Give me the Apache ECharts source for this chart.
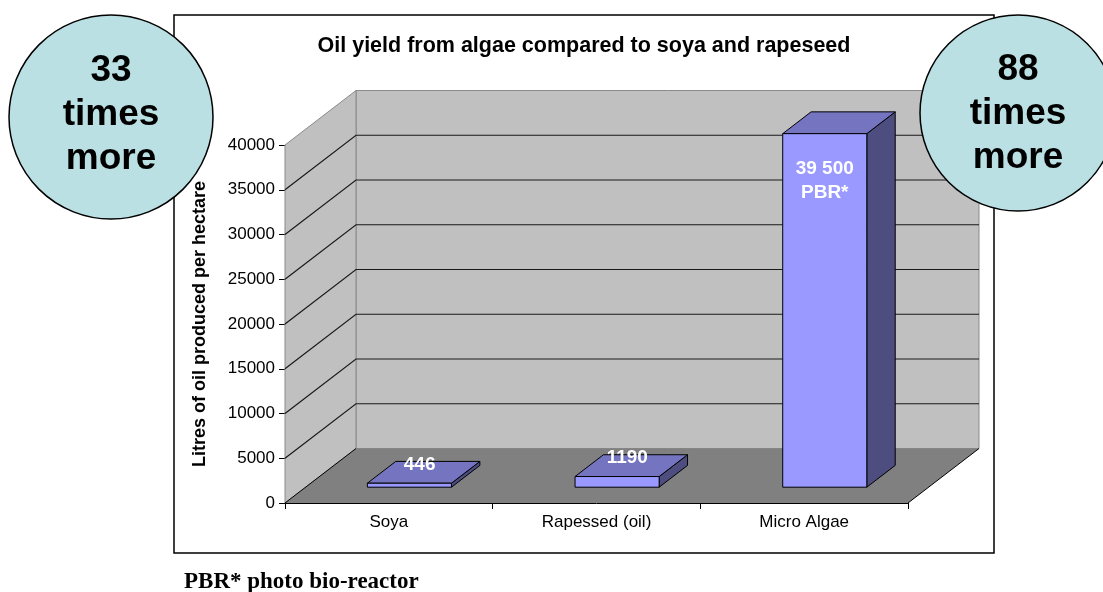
<!DOCTYPE html>
<html>
<head>
<meta charset="utf-8">
<script src="https://cdn.jsdelivr.net/npm/echarts@6/dist/echarts.min.js"></script>
<style>
  html, body { margin: 0; padding: 0; background: #fff; }
  #chart { width: 1103px; height: 592px; }
</style>
</head>
<body>
<div id="chart"></div>
<script>
const categories = ['Soya', 'Rapessed (oil)', 'Micro Algae'];
const oilYield = [446, 1190, 39500];
const barLabels = ['446', '1190', '39 500\nPBR*'];
const yTicks = [0, 5000, 10000, 15000, 20000, 25000, 30000, 35000, 40000];
const callouts = ['33\ntimes\nmore', '88\ntimes\nmore'];
const chartTitle = 'Oil yield from algae compared to soya and rapeseed';
const yAxisName = 'Litres of oil produced per hectare';
const footnote = 'PBR* photo bio-reactor';

// depth of the 3D box in pixels, bars sit between F0 and F1 of it
const DX = 71;
const DY = -54.5;
const F0 = 0.29;
const F1 = 0.69;
const FONT = "'Liberation Sans', Arial, sans-serif";

const chart = echarts.init(document.getElementById('chart'), null, { renderer: 'canvas' });

function renderWalls(params, api) {
    const band = api.size([1, 0])[0];
    const xL = api.coord([0, 0])[0] - band / 2;
    const xR = api.coord([categories.length - 1, 0])[0] + band / 2;
    const y0 = api.coord([0, 0])[1];
    const yTop = api.coord([0, yTicks[yTicks.length - 1]])[1];
    const children = [];
    children.push({
        type: 'polygon',
        shape: { points: [[xL + DX, y0 + DY], [xR + DX, y0 + DY], [xR + DX, yTop + DY], [xL + DX, yTop + DY]] },
        style: { fill: '#c0c0c0', stroke: '#8a8a8a', lineWidth: 1 }
    });
    children.push({
        type: 'polygon',
        shape: { points: [[xL, y0], [xL, yTop], [xL + DX, yTop + DY], [xL + DX, y0 + DY]] },
        style: { fill: '#c0c0c0', stroke: '#8a8a8a', lineWidth: 1 }
    });
    children.push({
        type: 'polygon',
        shape: { points: [[xL, y0], [xR, y0], [xR + DX, y0 + DY], [xL + DX, y0 + DY]] },
        style: { fill: '#808080' }
    });
    yTicks.slice(1, -1).forEach(v => {
        const y = api.coord([0, v])[1];
        children.push({
            type: 'polyline',
            shape: { points: [[xL, y], [xL + DX, y + DY], [xR + DX, y + DY]] },
            style: { stroke: '#1a1a1a', lineWidth: 1.2, fill: null }
        });
    });
    children.push({
        type: 'line',
        shape: { x1: xL, y1: y0, x2: xL + DX, y2: y0 + DY },
        style: { stroke: '#000', lineWidth: 1 }
    });
    children.push({
        type: 'line',
        shape: { x1: xR, y1: y0, x2: xR + DX, y2: y0 + DY },
        style: { stroke: '#000', lineWidth: 1 }
    });
    return { type: 'group', children };
}

function renderBar(params, api) {
    const i = api.value(0);
    const v = api.value(1);
    const top = api.coord([i, v]);
    const base = api.coord([i, 0]);
    const w = api.size([1, 0])[0] * 0.405;
    const x0 = top[0] - w / 2 + DX * F0;
    const x1 = x0 + w;
    const yT = top[1] + DY * F0;
    const yB = base[1] + DY * F0;
    const ddx = DX * (F1 - F0);
    const ddy = DY * (F1 - F0);
    const edge = { stroke: '#000', lineWidth: 1, lineJoin: 'round' };
    const inside = yB - yT > 80;
    const label = {
        type: 'text',
        x: inside ? (x0 + x1) / 2 : (x0 + x1) / 2 + ddx / 2 - 4,
        y: inside ? yT + 47 : yT + ddy / 2 - 8,
        style: {
            text: barLabels[params.dataIndex],
            fill: '#fff',
            fontFamily: FONT,
            fontWeight: 'bold',
            fontSize: 19,
            lineHeight: 24,
            align: 'center',
            verticalAlign: 'middle'
        }
    };
    return {
        type: 'group',
        children: [
            {
                type: 'polygon',
                shape: { points: [[x1, yT], [x1 + ddx, yT + ddy], [x1 + ddx, yB + ddy], [x1, yB]] },
                style: Object.assign({ fill: '#4d4d80' }, edge)
            },
            {
                type: 'polygon',
                shape: { points: [[x0, yT], [x1, yT], [x1 + ddx, yT + ddy], [x0 + ddx, yT + ddy]] },
                style: Object.assign({ fill: '#7474c0' }, edge)
            },
            {
                type: 'rect',
                shape: { x: x0, y: yT, width: w, height: yB - yT },
                style: Object.assign({ fill: '#9999ff' }, edge)
            },
            label
        ]
    };
}

const circleText = {
    fill: '#000',
    fontFamily: FONT,
    fontWeight: 'bold',
    fontSize: 37,
    lineHeight: 44,
    align: 'center',
    verticalAlign: 'middle'
};

chart.setOption({
    backgroundColor: '#fff',
    animation: false,
    grid: { left: 285, right: 195, top: 145, bottom: 89, outerBoundsMode: 'none' },
    xAxis: {
        type: 'category',
        data: categories,
        boundaryGap: true,
        axisLine: { show: true, lineStyle: { color: '#000', width: 1 } },
        axisTick: { show: true, length: 6, lineStyle: { color: '#000' } },
        axisLabel: { color: '#000', fontFamily: FONT, fontSize: 17, margin: 11 },
        splitLine: { show: false }
    },
    yAxis: {
        type: 'value',
        min: 0,
        max: 40000,
        interval: 5000,
        name: yAxisName,
        nameLocation: 'middle',
        nameGap: 76,
        nameRotate: 90,
        nameTextStyle: { color: '#000', fontFamily: FONT, fontWeight: 'bold', fontSize: 18 },
        axisLine: { show: true, lineStyle: { color: '#000', width: 1 } },
        axisTick: { show: true, length: 6, lineStyle: { color: '#000' } },
        axisLabel: { color: '#000', fontFamily: FONT, fontSize: 17, margin: 10, formatter: v => String(v) },
        splitLine: { show: false }
    },
    graphic: [
        {
            type: 'rect',
            z: -10,
            shape: { x: 174, y: 15, width: 820, height: 538 },
            style: { fill: '#fff', stroke: '#000', lineWidth: 1.5 }
        },
        {
            type: 'text',
            z: 10,
            x: 584,
            y: 46,
            style: {
                text: chartTitle,
                fill: '#000',
                fontFamily: FONT,
                fontWeight: 'bold',
                fontSize: 21.5,
                align: 'center',
                verticalAlign: 'middle'
            }
        },
        {
            type: 'circle',
            z: 100,
            shape: { cx: 111, cy: 117, r: 102 },
            style: { fill: '#bae0e3', stroke: '#000', lineWidth: 1.5 }
        },
        {
            type: 'text',
            z: 101,
            x: 111,
            y: 115,
            style: Object.assign({ text: callouts[0] }, circleText)
        },
        {
            type: 'circle',
            z: 100,
            shape: { cx: 1018, cy: 113, r: 98 },
            style: { fill: '#bae0e3', stroke: '#000', lineWidth: 1.5 }
        },
        {
            type: 'text',
            z: 101,
            x: 1018,
            y: 114,
            style: Object.assign({ text: callouts[1] }, circleText)
        },
        {
            type: 'text',
            z: 10,
            x: 184,
            y: 582,
            style: {
                text: footnote,
                fill: '#000',
                fontFamily: "'Liberation Serif', 'Times New Roman', serif",
                fontWeight: 'bold',
                fontSize: 23,
                align: 'left',
                verticalAlign: 'middle'
            }
        }
    ],
    series: [
        {
            type: 'custom',
            z: 1,
            clip: false,
            silent: true,
            renderItem: renderWalls,
            data: [[0, 0]]
        },
        {
            type: 'custom',
            z: 3,
            clip: false,
            renderItem: renderBar,
            data: oilYield.map((v, i) => [i, v])
        }
    ]
});
</script>
</body>
</html>
